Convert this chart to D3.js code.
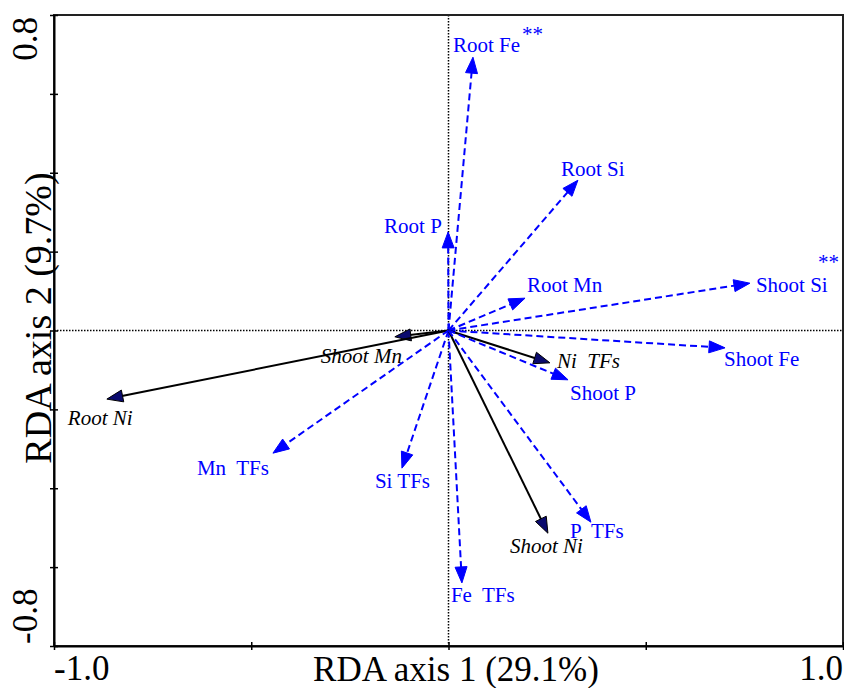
<!DOCTYPE html>
<html>
<head>
<meta charset="utf-8">
<script src="https://cdn.jsdelivr.net/npm/d3@7"></script>
<style>
    body { margin: 0; background: #fff; }
    svg text { font-family: "Liberation Serif", "Times New Roman", serif; white-space: pre; }
    .frame { fill: none; stroke: #222; stroke-width: 2; }
    .zero { stroke: #000; stroke-width: 1.5; stroke-dasharray: 1.5 1.5; }
    .tick { font-size: 35px; fill: #000; }
    .title { font-size: 38px; fill: #000; }
    .lbl { font-size: 21px; }
</style>
</head>
<body>
<div id="chart"></div>
<script>
// variable names, RDA axis 1 and 2 scores
var names = ["Root Fe", "Root Si", "Root P", "Root Mn", "Shoot Si", "Shoot Fe", "Ni  TFs", "Shoot P",
    "Shoot Mn", "Root Ni", "Mn  TFs", "Si TFs", "Fe  TFs", "Shoot Ni", "P  TFs"];
var axis1 = [0.062, 0.328, -0.001, 0.194, 0.764, 0.701, 0.257, 0.303,
    -0.136, -0.866, -0.445, -0.118, 0.034, 0.252, 0.361];
var axis2 = [0.693, 0.381, 0.250, 0.082, 0.120, -0.044, -0.082, -0.125,
    -0.016, -0.174, -0.311, -0.349, -0.640, -0.514, -0.486];
// response (Ni) variables are drawn solid black, the rest dashed blue
var isResponse = [false, false, false, false, false, false, true, false,
    true, true, false, false, false, true, false];
var stars = ["**", "", "", "", "**", "", "", "", "", "", "", "", "", "", ""];
var xTickLabels = ["-1.0", "1.0"];
var yTickLabels = ["0.8", "-0.8"];

// label placement relative to the arrow tip (pixels)
var labelOffsets = [[-20, -5], [-17, -4], [-64, 1], [2, -6], [6, 9], [-1, 18], [7, 5], [2, 20],
    [-74, 26], [-39, 26], [-76, 22], [-27, 20], [-11, 19], [-38, 20], [-21, 16]];
var starOffsets = [[49, -16], [68, -14]];

function init() {
    var k = 0;
    var dataset = names.map(function(n, i) {
        var so = stars[i] ? starOffsets[k++] : null;
        return { name: n, x: axis1[i], y: axis2[i], resp: isResponse[i], stars: stars[i], off: labelOffsets[i], soff: so };
    });
    biplot(dataset);
}

function biplot(dataset) {
    var w = 844;
    var h = 688;

    var xScale = d3.scaleLinear().domain([-1, 1]).range([54, 843]);
    var yScale = d3.scaleLinear().domain([-0.8, 0.8]).range([646, 15]);

    var svg = d3.select("#chart").append("svg").attr("width", w).attr("height", h);

    // zero lines
    svg.append("line").attr("class", "zero")
        .attr("x1", xScale(0)).attr("x2", xScale(0))
        .attr("y1", yScale(0.8)).attr("y2", yScale(-0.8));
    svg.append("line").attr("class", "zero")
        .attr("x1", xScale(-1)).attr("x2", xScale(1))
        .attr("y1", yScale(0)).attr("y2", yScale(0));

    // frame
    svg.append("rect").attr("class", "frame")
        .attr("x", xScale(-1)).attr("y", yScale(0.8))
        .attr("width", xScale(1) - xScale(-1))
        .attr("height", yScale(-0.8) - yScale(0.8));

    var xAxis = d3.axisBottom(xScale).tickValues(d3.range(-1, 1.01, 0.5)).tickSizeInner(4).tickSizeOuter(0).tickFormat("");
    var yAxis = d3.axisLeft(yScale).tickValues(d3.range(-0.8, 0.81, 0.2)).tickSizeInner(4).tickSizeOuter(0).tickFormat("");

    var gx = svg.append("g")
        .attr("transform", "translate(0, " + yScale(-0.8) + ")")
        .call(xAxis);
    var gy = svg.append("g")
        .attr("transform", "translate(" + xScale(-1) + ", 0)")
        .call(yAxis);
    [gx, gy].forEach(function(g) {
        g.select(".domain").attr("stroke", "#000").attr("stroke-width", 2);
        g.selectAll(".tick line").attr("stroke", "#000").attr("stroke-width", 1.5);
    });
    gx.selectAll(".tick line").attr("y1", -4).attr("y2", 4);
    gy.selectAll(".tick line").attr("x1", -4).attr("x2", 4);

    // tick labels at the ends only
    svg.append("text").attr("class", "tick")
        .attr("x", xScale(-1)).attr("y", 680).text(xTickLabels[0]);
    svg.append("text").attr("class", "tick").attr("text-anchor", "end")
        .attr("x", xScale(1)).attr("y", 680).text(xTickLabels[1]);
    svg.append("text").attr("class", "tick").attr("text-anchor", "end")
        .attr("transform", "translate(37," + (yScale(0.8) + 2) + ") rotate(-90)")
        .text(yTickLabels[0]);
    svg.append("text").attr("class", "tick")
        .attr("transform", "translate(37," + (yScale(-0.8) - 2) + ") rotate(-90)")
        .text(yTickLabels[1]);

    // axis titles
    svg.append("text").attr("class", "title").attr("text-anchor", "middle")
        .attr("x", 456).attr("y", 681).style("font-size", "35px").text("RDA axis 1 (29.1%)");
    svg.append("text").attr("class", "title").attr("text-anchor", "middle")
        .attr("transform", "translate(51,318) rotate(-90)")
        .text("RDA axis 2 (9.7%)");

    var x0 = xScale(0);
    var y0 = yScale(0);
    var headLen = 16;
    var headHalf = 6;

    var arrows = svg.append("g").selectAll("g").data(dataset).enter().append("g");

    arrows.append("line")
        .attr("x1", x0)
        .attr("y1", y0)
        .attr("x2", function(d) {
            var tx = xScale(d.x), ty = yScale(d.y);
            var len = Math.hypot(tx - x0, ty - y0);
            return tx - (tx - x0) / len * headLen * 0.8;
        })
        .attr("y2", function(d) {
            var tx = xScale(d.x), ty = yScale(d.y);
            var len = Math.hypot(tx - x0, ty - y0);
            return ty - (ty - y0) / len * headLen * 0.8;
        })
        .attr("stroke", function(d) { return d.resp ? "#000" : "#0000ff"; })
        .attr("stroke-width", 2)
        .attr("stroke-dasharray", function(d) { return d.resp ? null : "7 4"; });

    arrows.append("path")
        .attr("d", function(d) {
            var tx = xScale(d.x), ty = yScale(d.y);
            var len = Math.hypot(tx - x0, ty - y0);
            var ux = (tx - x0) / len, uy = (ty - y0) / len;
            var bx = tx - ux * headLen, by = ty - uy * headLen;
            return "M" + tx + "," + ty +
                "L" + (bx - uy * headHalf) + "," + (by + ux * headHalf) +
                "L" + (bx + uy * headHalf) + "," + (by - ux * headHalf) + "Z";
        })
        .attr("fill", function(d) { return d.resp ? "#0a0a6e" : "#0000ff"; })
        .attr("stroke", function(d) { return d.resp ? "#000" : "#0000ff"; })
        .attr("stroke-width", 1);

    arrows.append("text")
        .attr("class", "lbl")
        .attr("font-family", "Liberation Serif, serif")
        .attr("x", function(d) { return xScale(d.x) + d.off[0]; })
        .attr("y", function(d) { return yScale(d.y) + d.off[1]; })
        .attr("fill", function(d) { return d.resp ? "#000" : "#0000ff"; })
        .style("font-style", function(d) { return d.resp ? "italic" : "normal"; })
        .text(function(d) { return d.name; });

    // significance stars
    arrows.filter(function(d) { return d.stars; })
        .append("text")
        .attr("fill", "#0000ff")
        .style("font-size", "21px")
        .attr("x", function(d) { return xScale(d.x) + d.soff[0]; })
        .attr("y", function(d) { return yScale(d.y) + d.soff[1]; })
        .text(function(d) { return d.stars; });
}

window.onload = init;
</script>
</body>
</html>
